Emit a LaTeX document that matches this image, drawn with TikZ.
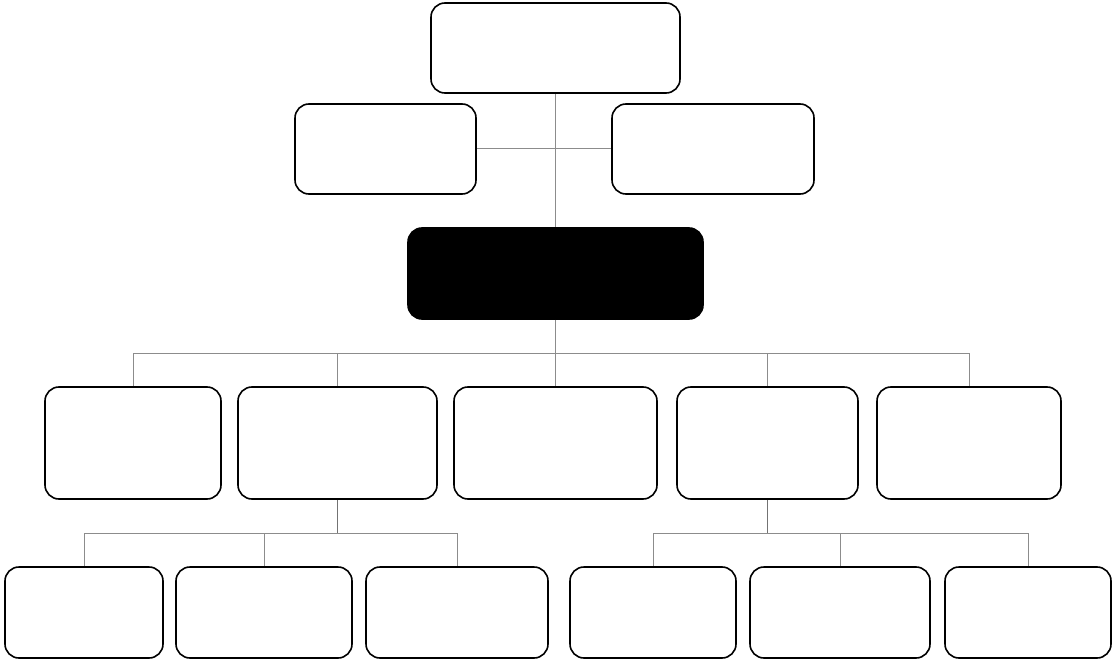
\documentclass[tikz,border=0pt]{standalone}
\begin{document}
\begin{tikzpicture}[x=1pt,y=-1pt,
  box/.style={draw=black,line width=1.6pt,rounded corners=14pt,fill=white,inner sep=0pt},
  conn/.style={draw=black!45,line width=1pt},
  stem/.style={draw=black!55,line width=1.5pt}]
\useasboundingbox (0,0) rectangle (1116,663);
% helper: box from (x1,y1) to (x2,y2)
\newcommand{\mybox}[6][]{\node[box,#1,minimum width={#4-#2},minimum height={#5-#3}] (#6) at ({(#2+#4)/2},{(#3+#5)/2}) {};}
\mybox{431}{3}{680}{93}{top}
\mybox{295}{104}{476}{194}{lm}
\mybox{612}{104}{814}{194}{rm}
\mybox[fill=black]{408}{228}{703}{319}{blk}
\mybox{45}{387}{221}{499}{b1}
\mybox{238}{387}{437}{499}{b2}
\mybox{454}{387}{657}{499}{b3}
\mybox{677}{387}{858}{499}{b4}
\mybox{877}{387}{1061}{499}{b5}
\mybox{5}{567}{163}{658}{c1}
\mybox{176}{567}{352}{658}{c2}
\mybox{366}{567}{548}{658}{c3}
\mybox{570}{567}{736}{658}{c4}
\mybox{750}{567}{930}{658}{c5}
\mybox{945}{567}{1111}{658}{c6}
\coordinate (bus1) at (555.5,353);
\coordinate (bus2) at (0,533);
\begin{scope}[on background layer/.style={}]
\end{scope}
% connectors
\path[conn] (top.south) -- (blk.north);
\path[conn] (lm.east) -- (rm.west);
\path[conn] (blk.south) -- (bus1);
\path[conn] (b1.north) -- (b1.north |- bus1) -- (b5.north |- bus1) -- (b5.north);
\foreach \n in {b2,b3,b4} \path[conn] (\n.north) -- (\n.north |- bus1);
\path[stem] (b2.south) -- (b2.south |- bus2);
\path[conn] (c1.north) -- (c1.north |- bus2) -- (c3.north |- bus2) -- (c3.north);
\path[conn] (c2.north) -- (c2.north |- bus2);
\path[stem] (b4.south) -- (b4.south |- bus2);
\path[conn] (c4.north) -- (c4.north |- bus2) -- (c6.north |- bus2) -- (c6.north);
\path[conn] (c5.north) -- (c5.north |- bus2);
\end{tikzpicture}
\end{document}
